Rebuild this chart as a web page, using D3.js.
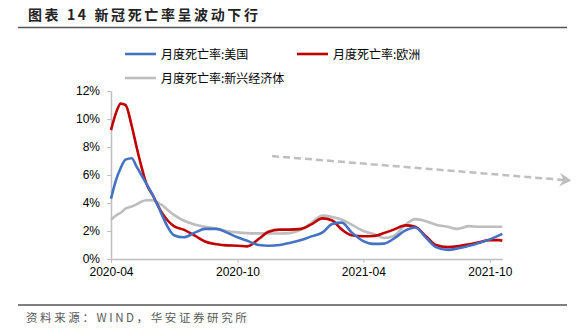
<!DOCTYPE html>
<html lang="zh">
<head>
<meta charset="utf-8">
<title>新冠死亡率呈波动下行</title>
<script src="https://d3js.org/d3.v7.min.js"></script>
<style>
  body { margin: 0; background: #fff; }
  svg { display: block; font-family: "Liberation Sans", Arial, "Noto Sans CJK SC", sans-serif; }
  .tick text { font-size: 12px; fill: #000; }
  .cn { font-family: "Noto Sans CJK SC", sans-serif; }
</style>
</head>
<body>
<script>
// dates (semi-monthly, weekly around the spring 2020 peak)
var dates = ["2020-04-01","2020-04-08","2020-04-15","2020-04-22","2020-05-01","2020-05-08","2020-05-15","2020-05-22",
  "2020-06-01","2020-06-08","2020-06-15","2020-06-22","2020-07-01","2020-07-15","2020-08-01","2020-08-15",
  "2020-09-01","2020-09-15","2020-10-01","2020-10-15","2020-11-01","2020-11-15","2020-12-01","2020-12-15",
  "2021-01-01","2021-01-15","2021-02-01","2021-02-15","2021-03-01","2021-03-15","2021-04-01","2021-04-15",
  "2021-05-01","2021-05-15","2021-06-01","2021-06-15","2021-07-01","2021-07-15","2021-08-01","2021-08-15",
  "2021-09-01","2021-09-15","2021-10-01","2021-10-15","2021-10-19"];

// monthly death rate, %
var usRate = [4.3,5.6,6.5,7.1,7.2,6.6,6.0,5.4, 4.5,3.8,3.0,2.3,1.7,1.55,1.9,2.15,
  2.15,1.9,1.55,1.3,1.0,0.95,1.0,1.15, 1.35,1.6,1.9,2.5,2.6,1.9,1.28,1.08,
  1.1,1.45,2.05,2.25,1.5,0.85,0.65,0.75, 0.95,1.15,1.4,1.7,1.8];
var euRate = [9.2,10.4,11.1,11.0,9.5,8.0,6.6,5.4, 4.5,3.8,3.2,2.75,2.35,2.1,1.65,1.25,
  1.05,0.97,0.95,0.9,1.45,1.95,2.1,2.1, 2.15,2.45,2.9,2.75,2.1,1.7,1.62,1.64,
  1.85,2.1,2.4,2.3,1.6,1.0,0.85,0.9, 1.05,1.2,1.35,1.35,1.3];
var emRate = [2.8,3.1,3.3,3.6,3.75,3.9,4.1,4.2, 4.2,4.0,3.8,3.5,3.15,2.75,2.45,2.3,
  2.15,2.0,1.9,1.85,1.83,1.82,1.82,1.85, 2.1,2.55,3.1,3.0,2.8,2.45,2.0,1.8,
  1.5,1.65,2.45,2.85,2.7,2.45,2.3,2.15, 2.35,2.3,2.3,2.3,2.3];

var seriesNames = ["月度死亡率:美国", "月度死亡率:欧洲", "月度死亡率:新兴经济体"];
var seriesColors = ["#4472C4", "#C00000", "#BDBDBD"];
var yTicks = [0, 0.02, 0.04, 0.06, 0.08, 0.10, 0.12];
var xTicks = ["2020-04-01", "2020-10-01", "2021-04-01", "2021-10-01"];

// trend arrow (start / end in data terms)
var trendDates = ["2020-11-20", "2022-01-27"];
var trendRates = [7.35, 5.6];

var W = 579, H = 330;
var parse = d3.timeParse("%Y-%m-%d");

var svg = d3.select("body").append("svg").attr("width", W).attr("height", H);

// title + rules
svg.append("text").attr("class", "cn").attr("x", 28).attr("y", 20)
  .style("font-size", "14px").style("font-weight", "bold").style("letter-spacing", "2.6px")
  .attr("fill", "#222").text("图表 14 新冠死亡率呈波动下行");
svg.append("line").attr("x1", 18).attr("x2", 567).attr("y1", 27.5).attr("y2", 27.5)
  .attr("stroke", "#555").attr("stroke-width", 1.5);
svg.append("line").attr("x1", 18).attr("x2", 567).attr("y1", 305).attr("y2", 305)
  .attr("stroke", "#555").attr("stroke-width", 1.5);
svg.append("text").attr("class", "cn").attr("x", 26).attr("y", 322)
  .style("font-size", "11.5px").style("letter-spacing", "2.6px")
  .attr("fill", "#595959").text("资料来源：WIND，华安证券研究所");

var x = d3.scaleTime()
  .domain([parse(dates[0]), parse(dates[dates.length - 1])])
  .range([111, 502.3]);
var y = d3.scaleLinear().domain([0, 0.12]).range([259, 91]);

// axes
var yAxis = svg.append("g").attr("transform", "translate(111,0)")
  .call(d3.axisLeft(y).tickValues(yTicks).tickFormat(d3.format(".0%")).tickSize(4).tickSizeOuter(0).tickPadding(7));
var xAxis = svg.append("g").attr("transform", "translate(0,259)")
  .call(d3.axisBottom(x).tickValues(xTicks.map(parse)).tickFormat(d3.timeFormat("%Y-%m")).tickSize(4).tickSizeOuter(0).tickPadding(4));
[yAxis, xAxis].forEach(function(a) {
  a.select(".domain").attr("stroke", "#BFBFBF").attr("stroke-width", 1.5);
  a.selectAll(".tick line").attr("stroke", "#BFBFBF");
});

// series
var allSeries = [usRate, euRate, emRate];
var line = d3.line()
  .x(function(d, i) { return x(parse(dates[i])); })
  .y(function(d) { return y(d / 100); })
  .curve(d3.curveMonotoneX);

// draw grey first, then red, then blue on top as in the reference
[2, 1, 0].forEach(function(k) {
  svg.append("path").datum(allSeries[k])
    .attr("d", line)
    .attr("fill", "none")
    .attr("stroke", seriesColors[k])
    .attr("stroke-width", 2.6)
    .attr("stroke-linejoin", "round");
});

// legend
var legendPos = [[125, 54], [297, 54], [125, 78]];
seriesNames.forEach(function(name, k) {
  var p = legendPos[k];
  svg.append("line").attr("x1", p[0]).attr("x2", p[0] + 31).attr("y1", p[1]).attr("y2", p[1])
    .attr("stroke", seriesColors[k]).attr("stroke-width", 2.6);
  svg.append("text").attr("class", "cn").attr("x", p[0] + 36).attr("y", p[1] + 4.5)
    .style("font-size", "12px").attr("fill", "#000").text(name);
});

// dashed trend arrow
var ax1 = x(parse(trendDates[0])), ay1 = y(trendRates[0] / 100);
var ax2 = x(parse(trendDates[1])), ay2 = y(trendRates[1] / 100);
var ang = Math.atan2(ay2 - ay1, ax2 - ax1);
svg.append("line")
  .attr("x1", ax1).attr("y1", ay1)
  .attr("x2", ax2 - 8 * Math.cos(ang)).attr("y2", ay2 - 8 * Math.sin(ang))
  .attr("stroke", "#BFBFBF").attr("stroke-width", 2.5).attr("stroke-dasharray", "7,4");
svg.append("path")
  .attr("d", "M0,0 L-12,-7 L-8,0 L-12,7 Z")
  .attr("fill", "#BFBFBF")
  .attr("transform", "translate(" + ax2 + "," + ay2 + ") rotate(" + (ang * 180 / Math.PI) + ")");
</script>
</body>
</html>
